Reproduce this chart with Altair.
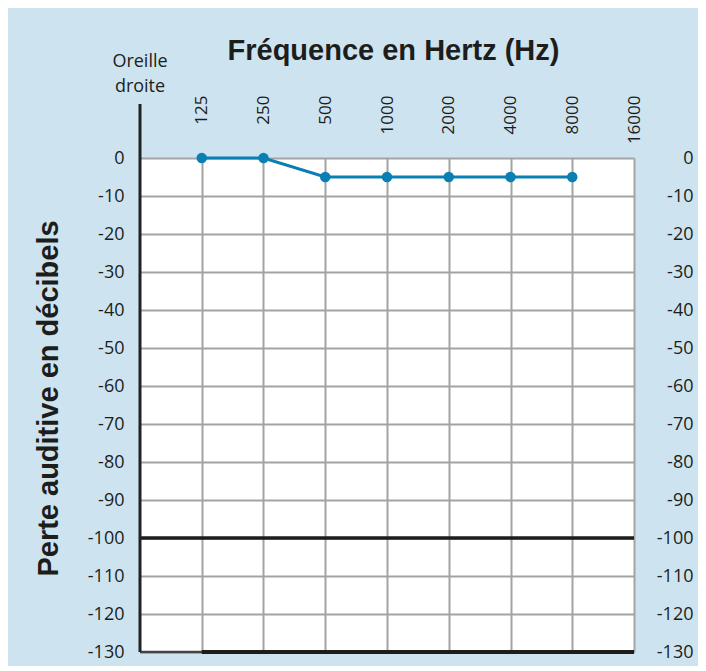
import altair as alt
import pandas as pd

freqs = [125, 250, 500, 1000, 2000, 4000, 8000]
db_values = [0, 0, -5, -5, -5, -5, -5]
freq_ticks = [125, 250, 500, 1000, 2000, 4000, 8000, 16000]
db_ticks = list(range(-130, 1, 10))

df = pd.DataFrame({"freq": freqs, "db": db_values})

BG = "#cde4f0"
GRID = "#a3a3a3"
INK = "#1d1d1b"
BLUE = "#0a7fb3"
W, H = 494, 494

xscale = alt.Scale(type="log", base=2, domain=[62.5, 16000], nice=False)
yscale = alt.Scale(domain=[-130, 0], nice=False)

x_axis = alt.Axis(
    orient="top", values=freq_ticks, format="d", labelAngle=270,
    labelAlign="right", labelBaseline="middle", labelPadding=63,
    labelFont="Open Sans", labelFontSize=17, labelColor=INK,
    ticks=False, domain=False, grid=True, gridColor=GRID, gridWidth=2,
    title="Fréquence en Hertz (Hz)", titleFont="Liberation Sans",
    titleFontSize=29, titleFontWeight="bold", titleColor=INK,
    titleX=253, titleY=-99, titleBaseline="alphabetic", titleAlign="center",
)
y_axis_left = alt.Axis(
    orient="left", values=db_ticks, labelPadding=16,
    labelExpr="'' + datum.value",
    labelFont="Open Sans", labelFontSize=18, labelColor=INK,
    ticks=False, domain=False, grid=True, gridColor=GRID, gridWidth=2,
    title="Perte auditive en décibels", titleFont="Liberation Sans",
    titleFontSize=29, titleFontWeight="bold", titleColor=INK,
    titleAngle=270, titleX=-83, titleY=240, titleBaseline="alphabetic",
    titleAlign="center",
)
y_axis_right = alt.Axis(
    orient="right", values=db_ticks, labelPadding=59, labelAlign="right",
    labelExpr="'' + datum.value",
    labelFont="Open Sans", labelFontSize=18, labelColor=INK,
    ticks=False, domain=False, grid=False, title="",
)

base = alt.Chart(df)

line = base.mark_line(color=BLUE, strokeWidth=3).encode(
    x=alt.X("freq:Q", scale=xscale, axis=x_axis),
    y=alt.Y("db:Q", scale=yscale, axis=y_axis_left),
)
points = base.mark_circle(color=BLUE, size=110, opacity=1).encode(
    x=alt.X("freq:Q", scale=xscale),
    y=alt.Y("db:Q", scale=yscale, axis=None),
)
right_axis = base.mark_point(opacity=0).encode(
    x=alt.X("freq:Q", scale=xscale),
    y=alt.Y("db:Q", scale=yscale, axis=y_axis_right, title=""),
)

rule_100 = alt.Chart().mark_rule(color=INK, strokeWidth=3.5).encode(
    y=alt.datum(-100, scale=yscale, axis=None),
)
rule_130_thin = alt.Chart().mark_rule(color="#444444", strokeWidth=2.5).encode(
    y=alt.datum(-130, scale=yscale, axis=None),
)
rule_130_thick = alt.Chart().mark_rule(color=INK, strokeWidth=4).encode(
    x=alt.datum(125, scale=xscale), x2=alt.datum(16000),
    y=alt.datum(-130, scale=yscale, axis=None),
)
left_line = alt.Chart().mark_rule(color="#222222", strokeWidth=3).encode(
    x=alt.datum(62.5, scale=xscale),
    y=alt.datum(-130, scale=yscale, axis=None), y2=alt.value(-54),
)
ear_label = alt.Chart().mark_text(
    text="Oreille\ndroite", lineBreak="\n", lineHeight=25,
    font="Open Sans", fontSize=18, color=INK,
    align="center", baseline="alphabetic",
).encode(
    x=alt.datum(62.5, scale=xscale),
    y=alt.value(-91),
)

chart = alt.layer(
    rule_130_thin, rule_130_thick, rule_100, left_line, line, points,
    right_axis, ear_label,
).resolve_axis(y="independent").properties(
    width=W, height=H,
    background=BG,
    autosize=alt.AutoSizeParams(type="none"),
    padding={"left": 132, "top": 150, "right": 64, "bottom": 14},
).configure_view(fill="white", stroke=None)

chart.save("out.html", embed_options={"renderer": "svg", "actions": False})
